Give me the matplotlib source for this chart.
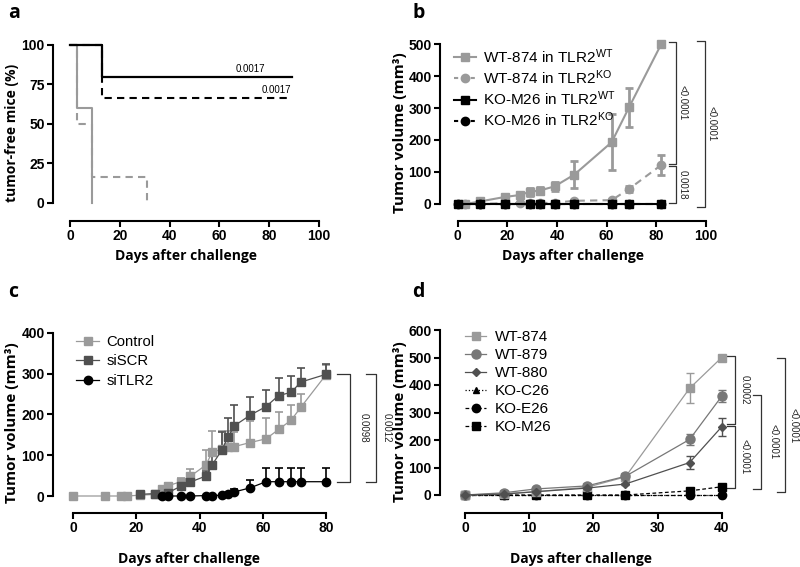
import matplotlib
matplotlib.use("Agg")
import matplotlib.pyplot as plt
from matplotlib.lines import Line2D
from matplotlib.font_manager import FontProperties

plt.rcParams['font.family'] = ['Liberation Sans', 'DejaVu Sans']
plt.rcParams['mathtext.fontset'] = 'custom'
plt.rcParams['mathtext.rm'] = 'Liberation Sans'
plt.rcParams['mathtext.it'] = 'Liberation Sans:italic'
plt.rcParams['mathtext.bf'] = 'Liberation Sans:bold'

W, H = 800, 567

# ---------------- data ----------------
# Panel a: Kaplan-Meier (step, post)
a_t_black_solid = [0, 13, 89]
a_s_black_solid = [100, 80, 80]
a_t_black_dash = [0, 13, 89]
a_s_black_dash = [100, 66.7, 66.7]
a_t_gray_solid = [0, 3, 9]
a_s_gray_solid = [100, 60, 0]
a_t_gray_dash = [0, 3, 9, 31]
a_s_gray_dash = [100, 50, 16.7, 0]
a_pvals = ["0.0017", "0.0017"]

# Panel b
b_labels = ["WT-874 in TLR2$^{\\mathrm{WT}}$", "WT-874 in TLR2$^{\\mathrm{KO}}$",
            "KO-M26 in TLR2$^{\\mathrm{WT}}$", "KO-M26 in TLR2$^{\\mathrm{KO}}$"]
b_x_wt874_wt = [3, 9, 19, 25, 29, 33, 39, 47, 62, 69, 82]
b_y_wt874_wt = [0, 8, 22, 28, 38, 42, 55, 92, 193, 302, 500]
b_e_wt874_wt = [0, 1, 3, 3, 12, 12, 15, 42, 87, 60, 3]
b_x_wt874_ko = [3, 9, 19, 25, 29, 33, 39, 47, 62, 69, 82]
b_y_wt874_ko = [0, 1, 2, 3, 3, 3, 4, 10, 12, 47, 122]
b_e_wt874_ko = [0, 0, 0, 1, 1, 1, 2, 4, 3, 10, 32]
b_x_ko = [0, 9, 19, 29, 33, 39, 47, 62, 69, 82]
b_y_ko_wt = [0, 0, 0, 0, 0, 0, 0, 0, 0, 0]
b_y_ko_ko = [0, 0, 0, 0, 0, 0, 0, 0, 0, 0]
b_pvals = ["<0.0001", "0.0018", "<0.0001"]

# Panel c
c_labels = ["Control", "siSCR", "siTLR2"]
c_x_ctrl = [0, 10, 15, 17, 21, 26, 28, 30, 34, 37, 42, 44, 47, 49, 51, 56, 61, 65, 69, 72, 80]
c_y_ctrl = [0, 0, 0, 0, 2, 4, 17, 25, 35, 48, 76, 108, 114, 120, 121, 131, 140, 163, 186, 217, 297]
c_e_ctrl = [0, 0, 0, 0, 1, 2, 4, 6, 10, 18, 36, 50, 45, 40, 35, 52, 50, 42, 38, 32, 25]
c_x_scr = [21, 26, 30, 34, 37, 42, 44, 47, 49, 51, 56, 61, 65, 69, 72, 80]
c_y_scr = [4, 6, 8, 24, 34, 49, 77, 112, 145, 172, 198, 219, 246, 254, 279, 298]
c_e_scr = [0, 2, 3, 5, 6, 12, 25, 45, 47, 51, 45, 40, 43, 41, 35, 25]
c_x_tlr2 = [28, 30, 34, 37, 42, 44, 47, 49, 51, 56, 61, 65, 69, 72, 80]
c_y_tlr2 = [0, 0, 0, 0, 1, 1, 2, 4, 10, 20, 35, 35, 35, 35, 35]
c_e_tlr2 = [0, 0, 0, 0, 0, 0, 0, 0, 8, 20, 34, 34, 34, 34, 34]
c_pvals = ["0.0098", "0.0012"]

# Panel d
d_labels = ["WT-874", "WT-879", "WT-880", "KO-C26", "KO-E26", "KO-M26"]
d_x = [0, 6, 11, 19, 25, 35, 40]
d_y_874 = [0, 5, 12, 28, 66, 388, 500]
d_e_874 = [0, 1, 2, 3, 8, 55, 3]
d_y_879 = [0, 8, 22, 33, 68, 202, 359]
d_e_879 = [0, 1, 3, 3, 6, 20, 22]
d_y_880 = [0, 3, 12, 25, 40, 118, 248]
d_e_880 = [0, 1, 2, 3, 4, 23, 33]
d_y_c26 = [0, 0, 0, 0, 0, 0, 0]
d_y_e26 = [0, 0, 0, 0, 0, 0, 0]
d_y_m26 = [0, 0, 0, 0, 0, 15, 30]
d_pvals = ["0.0002", "<0.0001", "<0.0001", "<0.0001"]

LGRAY = "#9a9a9a"
MGRAY = "#777777"
DGRAY = "#505050"

fig = plt.figure(figsize=(W / 100, H / 100), dpi=100)

TICKFONT = FontProperties(family='Liberation Sans', weight='bold', size=10)
LABFONT = dict(family='Open Sans', weight='bold', size=10)
YLABFONT = dict(family='Open Sans', weight='bold', size=11)


def make_ax(xspine_px, x_a, xa_px, x_b, xb_px, yspine_px, y_a, ya_px, y_b, yb_px,
            xticks, yticks):
    sx = (xb_px - xa_px) / (x_b - x_a)
    xlo = x_a - (xa_px - xspine_px) / sx
    sy = (ya_px - yb_px) / (y_b - y_a)
    ylo = y_a - (yspine_px - ya_px) / sy
    ax = fig.add_axes([xspine_px / W, 1 - yspine_px / H,
                       (xb_px - xspine_px) / W, (yspine_px - yb_px) / H])
    ax.set_xlim(xlo, x_b)
    ax.set_ylim(ylo, y_b)
    for s in ['top', 'right']:
        ax.spines[s].set_visible(False)
    for s in ['left', 'bottom']:
        ax.spines[s].set_linewidth(1.5)
    ax.spines['left'].set_bounds(y_a, y_b)
    ax.spines['bottom'].set_bounds(x_a, x_b)
    ax.set_xticks(xticks)
    ax.set_yticks(yticks)
    ax.tick_params(direction='out', length=4, width=1.5, pad=2)
    for lab in ax.get_xticklabels() + ax.get_yticklabels():
        lab.set_fontproperties(TICKFONT)
    ax.patch.set_alpha(0)
    return ax


def place_ylabel(ax, right_edge_px, spine_px, width_px):
    # right edge of the rotated label, expressed in axes fraction
    ax.yaxis.set_label_coords((right_edge_px - spine_px) / width_px, 0.5)


def bracket(ax, x, y0, y1, tick, label, lx, fs=7):
    ax.plot([x - tick, x, x, x - tick], [y0, y0, y1, y1], color='#333333', lw=0.9,
            clip_on=False)
    ax.text(lx, (y0 + y1) / 2, label, rotation=270, ha='center', va='center',
            fontsize=fs, color='#222222', clip_on=False)


# ---------------- panel a ----------------
axa = make_ax(53, 0, 70, 100, 319, 221, 0, 203, 100, 45,
              [0, 20, 40, 60, 80, 100], [0, 25, 50, 75, 100])
axa.step(a_t_gray_solid, a_s_gray_solid, where='post', color=LGRAY, lw=1.5, clip_on=False)
axa.step(a_t_gray_dash, a_s_gray_dash, where='post', color=LGRAY, lw=1.5,
         ls=(0, (3.5, 2.5)), clip_on=False)
axa.step(a_t_black_dash, a_s_black_dash, where='post', color='black', lw=1.5,
         ls=(0, (3.5, 2.5)), clip_on=False)
axa.step(a_t_black_solid, a_s_black_solid, where='post', color='black', lw=1.6, clip_on=False)
axa.text(78.5, 81.5, a_pvals[0], ha='right', va='bottom', fontsize=7)
axa.text(89, 68.5, a_pvals[1], ha='right', va='bottom', fontsize=7)
axa.set_xlabel("Days after challenge", labelpad=4, **LABFONT)
axa.set_ylabel("tumor-free mice (%)", **LABFONT)
place_ylabel(axa, 19, 53, 266)

# ---------------- panel b ----------------
axb = make_ax(440, 0, 457.7, 100, 706, 221, 0, 204, 500, 44,
              [0, 20, 40, 60, 80, 100], [0, 100, 200, 300, 400, 500])
axb.errorbar(b_x_wt874_wt, b_y_wt874_wt, yerr=b_e_wt874_wt, color=LGRAY, lw=1.5,
             marker='s', ms=6, elinewidth=2, capsize=3, capthick=2, clip_on=False, zorder=3)
axb.errorbar(b_x_wt874_ko, b_y_wt874_ko, yerr=b_e_wt874_ko, color=LGRAY, lw=1.5,
             ls=(0, (3.5, 2.5)), marker='o', ms=6, elinewidth=2, capsize=3, capthick=2,
             clip_on=False, zorder=3)
axb.plot(b_x_ko, b_y_ko_ko, color='black', lw=1.5, ls=(0, (3.5, 2.5)), marker='o', ms=6,
         clip_on=False, zorder=4)
axb.plot(b_x_ko, b_y_ko_wt, color='black', lw=1.5, marker='s', ms=6, clip_on=False, zorder=5)
bracket(axb, 88, 507, 125, 3, b_pvals[0], 90.5)
bracket(axb, 88, 118, 2, 3, b_pvals[1], 90.5)
bracket(axb, 99.6, 510, -8, 3.4, b_pvals[2], 102.2)
b_handles = [
    Line2D([], [], color=LGRAY, lw=1.5, marker='s', ms=6),
    Line2D([], [], color=LGRAY, lw=1.5, ls=(0, (2, 2)), marker='o', ms=6),
    Line2D([], [], color='black', lw=1.5, marker='s', ms=6),
    Line2D([], [], color='black', lw=1.5, ls=(0, (2, 2)), marker='o', ms=6),
]
fig.legend(b_handles, b_labels, loc='upper left', bbox_to_anchor=(454 / W, 1 - 47 / H),
           frameon=False, fontsize=11, handlelength=1.45, handletextpad=0.45,
           labelspacing=0.17, borderpad=0, borderaxespad=0)
axb.set_xlabel("Days after challenge", labelpad=4, **LABFONT)
axb.set_ylabel("Tumor volume (mm³)", **YLABFONT)
place_ylabel(axb, 407, 440, 266)

# ---------------- panel c ----------------
axc = make_ax(53, 0, 73.3, 80, 326, 513, 0, 496, 400, 332.7,
              [0, 20, 40, 60, 80], [0, 100, 200, 300, 400])
axc.errorbar(c_x_ctrl, c_y_ctrl, yerr=[[0] * len(c_e_ctrl), c_e_ctrl], color=LGRAY, lw=0.9,
             marker='s', ms=6, elinewidth=1.2, capsize=3, capthick=1.2, clip_on=False, zorder=3)
axc.errorbar(c_x_scr, c_y_scr, yerr=[[0] * len(c_e_scr), c_e_scr], color=DGRAY, lw=0.9,
             marker='s', ms=6, elinewidth=1.2, capsize=3, capthick=1.2, clip_on=False, zorder=3)
axc.errorbar(c_x_tlr2, c_y_tlr2, yerr=[[0] * len(c_e_tlr2), c_e_tlr2], color='black', lw=0.9,
             marker='o', ms=6, elinewidth=1.2, capsize=3, capthick=1.2, clip_on=False, zorder=4)
bracket(axc, 87.6, 298, 35, 4, c_pvals[0], 91.8)
bracket(axc, 95.8, 298, 35, 3, c_pvals[1], 99.3)
c_handles = [
    Line2D([], [], color=LGRAY, lw=0.9, marker='s', ms=6),
    Line2D([], [], color=DGRAY, lw=0.9, marker='s', ms=6),
    Line2D([], [], color='black', lw=0.9, marker='o', ms=6),
]
fig.legend(c_handles, c_labels, loc='upper left', bbox_to_anchor=(76 / W, 1 - 335 / H),
           frameon=False, fontsize=10.7, handlelength=1.55, handletextpad=0.5,
           labelspacing=0.37, borderpad=0, borderaxespad=0)
axc.set_xlabel("Days after challenge", labelpad=12, **LABFONT)
axc.set_ylabel("Tumor volume (mm³)", **YLABFONT)
place_ylabel(axc, 19, 53, 273)

# ---------------- panel d ----------------
axd = make_ax(440, 0, 465, 40, 721.7, 513, 0, 495, 600, 330,
              [0, 10, 20, 30, 40], [0, 100, 200, 300, 400, 500, 600])
axd.errorbar(d_x, d_y_c26, color='black', lw=0.9, ls=':', marker='^', ms=5, clip_on=False, zorder=3)
axd.errorbar(d_x, d_y_e26, color='black', lw=0.9, ls=(0, (3, 2)), marker='o', ms=6,
             clip_on=False, zorder=3)
axd.errorbar(d_x, d_y_m26, color='black', lw=0.9, ls=(0, (3, 2)), marker='s', ms=6,
             clip_on=False, zorder=3)
axd.errorbar(d_x, d_y_874, yerr=d_e_874, color=LGRAY, lw=0.9, marker='s', ms=6,
             elinewidth=1, capsize=3, capthick=1, clip_on=False, zorder=4)
axd.errorbar(d_x, d_y_879, yerr=d_e_879, color=MGRAY, lw=0.9, marker='o', ms=6.5,
             elinewidth=1, capsize=3, capthick=1, clip_on=False, zorder=4)
axd.errorbar(d_x, d_y_880, yerr=d_e_880, color=DGRAY, lw=0.9, marker='D', ms=4,
             elinewidth=1, capsize=3, capthick=1, clip_on=False, zorder=5)
bracket(axd, 42.1, 505, 258, 1.3, d_pvals[0], 43.6)
bracket(axd, 42.1, 252, 24, 1.3, d_pvals[1], 43.6)
bracket(axd, 46.2, 364, 22, 1.3, d_pvals[2], 48.0)
bracket(axd, 49.9, 497, 10, 1.3, d_pvals[3], 51.2)
d_handles = [
    Line2D([], [], color=LGRAY, lw=0.9, marker='s', ms=6),
    Line2D([], [], color=MGRAY, lw=0.9, marker='o', ms=6.5),
    Line2D([], [], color=DGRAY, lw=0.9, marker='D', ms=4),
    Line2D([], [], color='black', lw=0.9, ls=':', marker='^', ms=5),
    Line2D([], [], color='black', lw=0.9, ls=(0, (3, 2)), marker='o', ms=6),
    Line2D([], [], color='black', lw=0.9, ls=(0, (3, 2)), marker='s', ms=6),
]
fig.legend(d_handles, d_labels, loc='upper left', bbox_to_anchor=(465 / W, 1 - 330 / H),
           frameon=False, fontsize=11, handlelength=1.4, handletextpad=0.55,
           labelspacing=0.26, borderpad=0, borderaxespad=0)
axd.set_xlabel("Days after challenge", labelpad=12, **LABFONT)
axd.set_ylabel("Tumor volume (mm³)", **YLABFONT)
place_ylabel(axd, 407, 440, 282)

# panel letters
for lx, ly, t in [(8, 3, 'a'), (412, 3, 'b'), (8, 282, 'c'), (412, 282, 'd')]:
    fig.text(lx / W, 1 - ly / H, t, ha='left', va='top', fontsize=14, weight='bold',
             family='Open Sans')

fig.savefig("out.png", dpi=100)
